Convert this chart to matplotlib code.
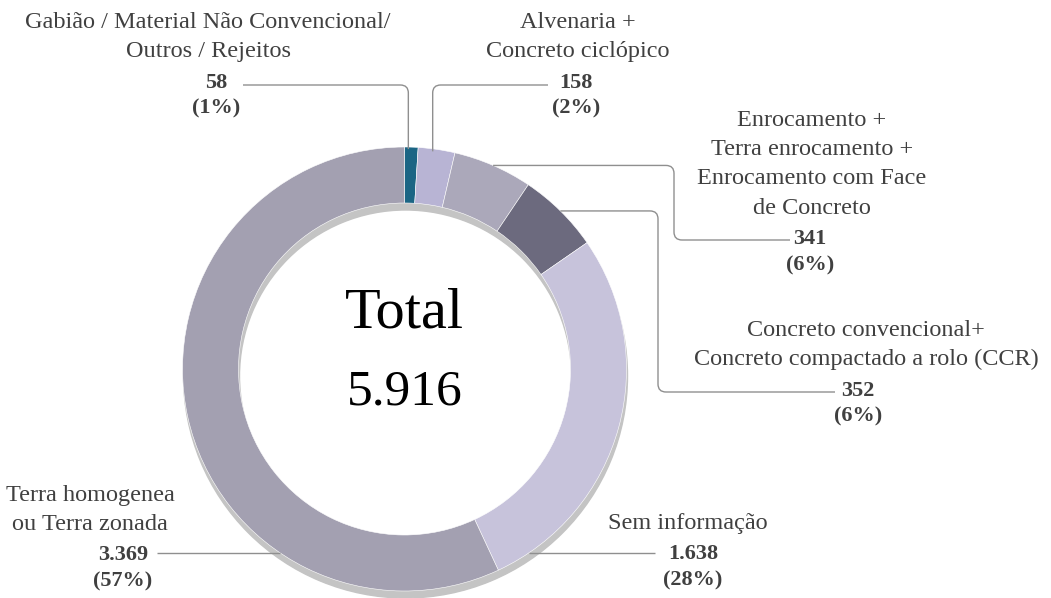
import numpy as np
import matplotlib.pyplot as plt
from matplotlib.patches import Wedge
from matplotlib.path import Path
from matplotlib.patches import PathPatch

plt.rcParams['font.family'] = ['Liberation Serif', 'DejaVu Serif']

# dados
categorias = [['Gabião / Material Não Convencional/', 'Outros / Rejeitos'],
              ['Alvenaria +', 'Concreto ciclópico'],
              ['Enrocamento +', 'Terra enrocamento +', 'Enrocamento com Face', 'de Concreto'],
              ['Concreto convencional+', 'Concreto compactado a rolo (CCR)'],
              ['Sem informação'],
              ['Terra homogenea', 'ou Terra zonada']]
valores = [58, 158, 341, 352, 1638, 3369]
valores_txt = ['58', '158', '341', '352', '1.638', '3.369']
percentuais = ['(1%)', '(2%)', '(6%)', '(6%)', '(28%)', '(57%)']
cores = ['#1b6584', '#b8b4d4', '#aba8ba', '#6c6a7e', '#c7c3db', '#a3a0b1']
total = sum(valores)

W, H = 1051, 598
fig = plt.figure(figsize=(W / 100, H / 100), dpi=100)
ax = fig.add_axes([0, 0, 1, 1])

cx, cy, R, larg = 404.5, 369, 222, 56

# sombra
ax.add_patch(Wedge((cx + 1, cy + 7), R, 0, 360, width=larg, color='#c4c4c4', zorder=1))

# y invertido -> counterclock=True desenha no sentido horario
wedges, _ = ax.pie(valores, colors=cores, startangle=-90, counterclock=True,
                   center=(cx, cy), radius=R, frame=True,
                   wedgeprops=dict(width=larg, edgecolor='white', linewidth=0.4))
for w in wedges:
    w.set_zorder(2)
ax.set_xlim(0, W)
ax.set_ylim(H, 0)
ax.set_aspect('equal')
ax.axis('off')

ax.text(cx, 314, 'Total', ha='center', va='center', fontsize=42, color='black')
ax.text(cx, 392, '5.916', ha='center', va='center', fontsize=37, color='black')


def leader(pts, r=8):
    verts, codes = [pts[0]], [Path.MOVETO]
    for i in range(1, len(pts) - 1):
        p0, p1, p2 = map(np.array, (pts[i - 1], pts[i], pts[i + 1]))
        d1 = (p1 - p0) / np.linalg.norm(p1 - p0)
        d2 = (p2 - p1) / np.linalg.norm(p2 - p1)
        verts += [tuple(p1 - d1 * r), tuple(p1), tuple(p1 + d2 * r)]
        codes += [Path.LINETO, Path.CURVE3, Path.CURVE3]
    verts.append(pts[-1])
    codes.append(Path.LINETO)
    ax.add_patch(PathPatch(Path(verts, codes), fill=False, edgecolor='#8f8f8f',
                           lw=1.0, zorder=3))


def ponto_medio(i):
    ang = np.deg2rad((sum(valores[:i]) + valores[i] / 2) / total * 360)
    return cx + R * np.sin(ang), cy - R * np.cos(ang)


def ponto_y(y, lado):
    dx = np.sqrt(R ** 2 - (y - cy) ** 2)
    return cx + lado * dx


# rotulos: (x texto, y primeira linha, x do valor)
pos = [(208, 22, 216), (578, 22, 576), (812, 120, 810), (866, 330, 858),
       (688, 523, 693), (90, 495, 123)]
lh = 29.5
for i, (lx, ly, vx) in enumerate(pos):
    for k, linha in enumerate(categorias[i]):
        ax.text(lx, ly + k * lh, linha, ha='center', va='center', fontsize=17.5,
                color='#404040')
    yv = ly + (len(categorias[i]) - 1) * lh + 31
    ax.text(vx, yv, valores_txt[i], ha='center', va='center', fontsize=16,
            fontweight='bold', color='#404040')
    ax.text(vx, yv + 26, percentuais[i], ha='center', va='center', fontsize=16,
            fontweight='bold', color='#404040')

# linhas de chamada
x0, y0 = ponto_medio(0)
leader([(243, 85), (x0 - 3, 85), (x0 - 3, y0 + 2)])
x1, y1 = ponto_medio(1)
leader([(548, 85), (x1 - 4, 85), (x1 - 4, y1 + 2)])
x2, y2 = ponto_medio(2)
leader([(x2, y2), (674, y2), (674, 240), (790, 240)])
x3, y3 = ponto_medio(3)
leader([(x3, y3), (658, y3), (658, 392), (835, 392)])
leader([(ponto_y(553, 1), 553), (655, 553)])
leader([(157, 553), (ponto_y(553, -1), 553)])

fig.savefig('out.png', dpi=100)
